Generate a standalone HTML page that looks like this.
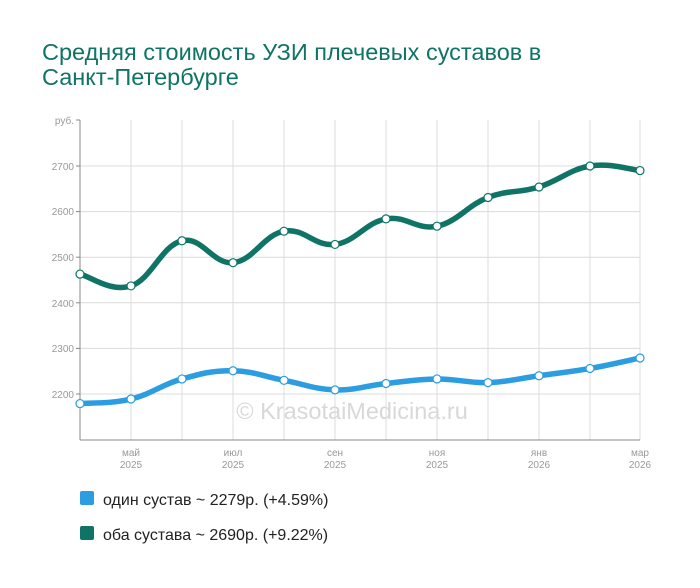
<!DOCTYPE html>
<html><head><meta charset="utf-8"><style>
body{margin:0;background:#fff;width:700px;height:583px;overflow:hidden;font-family:"Liberation Sans",sans-serif}
</style></head><body>
<svg width="700" height="583" xmlns="http://www.w3.org/2000/svg" font-family="Liberation Sans, sans-serif">
<text x="42" y="60" font-size="23.5" fill="#0f7466">Средняя стоимость УЗИ плечевых суставов в</text>
<text x="42" y="85" font-size="23.5" fill="#0f7466">Санкт-Петербурге</text>
<g stroke="#dcdcdc" stroke-width="1">
<line x1="80" y1="166" x2="640" y2="166"/><line x1="80" y1="211.6" x2="640" y2="211.6"/>
<line x1="80" y1="257.2" x2="640" y2="257.2"/><line x1="80" y1="302.8" x2="640" y2="302.8"/>
<line x1="80" y1="348.4" x2="640" y2="348.4"/><line x1="80" y1="394" x2="640" y2="394"/>
<line x1="131" y1="120" x2="131" y2="440"/><line x1="182" y1="120" x2="182" y2="440"/>
<line x1="233" y1="120" x2="233" y2="440"/><line x1="284" y1="120" x2="284" y2="440"/>
<line x1="335" y1="120" x2="335" y2="440"/><line x1="386" y1="120" x2="386" y2="440"/>
<line x1="437" y1="120" x2="437" y2="440"/><line x1="488" y1="120" x2="488" y2="440"/>
<line x1="539" y1="120" x2="539" y2="440"/><line x1="590" y1="120" x2="590" y2="440"/>
<line x1="640" y1="120" x2="640" y2="440"/>
</g>
<g stroke="#888" stroke-width="1">
<line x1="80" y1="120" x2="80" y2="440"/><line x1="80" y1="440" x2="640" y2="440"/>
<line x1="76" y1="120" x2="80" y2="120"/><line x1="76" y1="166" x2="80" y2="166"/><line x1="76" y1="211.6" x2="80" y2="211.6"/><line x1="76" y1="257.2" x2="80" y2="257.2"/><line x1="76" y1="302.8" x2="80" y2="302.8"/><line x1="76" y1="348.4" x2="80" y2="348.4"/><line x1="76" y1="394" x2="80" y2="394"/>
</g>
<g font-size="10" fill="#999" text-anchor="end">
<text x="74" y="124">руб.</text><text x="74" y="170">2700</text><text x="74" y="215">2600</text><text x="74" y="261">2500</text><text x="74" y="307">2400</text><text x="74" y="352">2300</text><text x="74" y="398">2200</text>
</g>
<g font-size="10" fill="#999" text-anchor="middle">
<text x="131" y="456">май</text><text x="131" y="468">2025</text>
<text x="233" y="456">июл</text><text x="233" y="468">2025</text>
<text x="335" y="456">сен</text><text x="335" y="468">2025</text>
<text x="437" y="456">ноя</text><text x="437" y="468">2025</text>
<text x="539" y="456">янв</text><text x="539" y="468">2026</text>
<text x="640" y="456">мар</text><text x="640" y="468">2026</text>
</g>
<text x="352" y="419" font-size="23.5" fill="#d8d8d8" text-anchor="middle">© KrasotaiMedicina.ru</text>
<g id="series"></g>
<rect x="80" y="491" width="14" height="14" rx="2" fill="#2b9de0"/>
<text x="103" y="505" font-size="16" fill="#222">один сустав ~ 2279р. (+4.59%)</text>
<rect x="80" y="526" width="14" height="14" rx="2" fill="#0f7466"/>
<text x="103" y="540" font-size="16" fill="#222">оба сустава ~ 2690р. (+9.22%)</text>
</svg>
<script>
var xs=[80,131,182,233,284,335,386,437,488,539,590,640];
function Y(v){return 394-(v-2200)*0.456;}
var G=[2463,2437,2536,2488,2557,2528,2584,2568,2631,2654,2700,2690];
var B=[2179,2189,2233,2251,2230,2209,2223,2233,2225,2240,2256,2279];
function path(d){var p=d.map(function(v,i){return[xs[i],Y(v)]});var s="M"+p[0][0]+","+p[0][1];
for(var i=0;i<p.length-1;i++){var p0=p[i-1]||p[i],p1=p[i],p2=p[i+1],p3=p[i+2]||p2;
var t=0.2;s+=" C"+(p1[0]+(p2[0]-p0[0])*t)+","+(p1[1]+(p2[1]-p0[1])*t)+" "+(p2[0]-(p3[0]-p1[0])*t)+","+(p2[1]-(p3[1]-p1[1])*t)+" "+p2[0]+","+p2[1];}return s;}
var g=document.getElementById("series"),h="";
[[B,"#2b9de0"],[G,"#0f7466"]].forEach(function(s){h+='<path d="'+path(s[0])+'" fill="none" stroke="'+s[1]+'" stroke-width="5.5"/>';
s[0].forEach(function(v,i){h+='<circle cx="'+xs[i]+'" cy="'+Y(v)+'" r="4" fill="#fff" stroke="'+s[1]+'" stroke-width="1.2"/>';});});
g.innerHTML=h;
</script>
</body></html>
